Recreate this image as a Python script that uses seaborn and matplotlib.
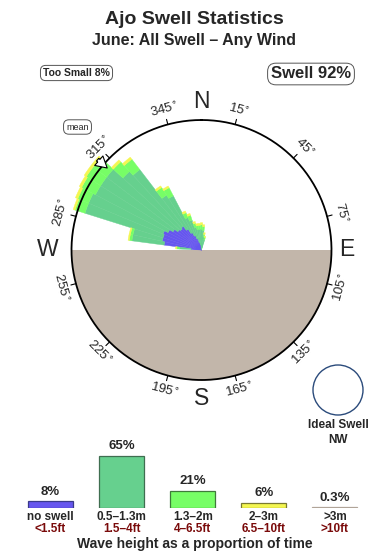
import numpy as np
import matplotlib
matplotlib.use("Agg")
import matplotlib.pyplot as plt
from matplotlib.patches import Ellipse
import seaborn as sns

sns.set_style("white")
plt.rcParams['font.family'] = ['Liberation Sans', 'DejaVu Sans']

# ---------------- data ----------------
# rose: direction bins (deg, compass) and stacked radial lengths (circle radius = 100)
directions = [275, 280, 285, 290, 295, 300, 305, 310, 315, 320, 325, 330, 335, 340, 345, 350, 355, 0, 5, 10, 15]
no_swell   = [8, 29, 31, 31, 32, 29, 26, 23, 22, 23, 19, 15, 12, 9, 6, 4, 2, 2, 1, 0, 0]
h_05_13    = [9, 25, 23, 63, 62, 63, 66, 69, 60, 55, 31, 32, 15, 15, 12, 12, 14, 14, 14, 10, 8]
h_13_2     = [2, 2, 2, 8, 9, 12, 13, 13, 10, 10, 7, 7, 4, 4, 3, 3, 3, 3.5, 3, 2, 2]
h_2_3      = [1, 1, 1, 1.5, 2, 2, 2, 2, 2, 2, 1.5, 1.5, 1.5, 1.5, 1.5, 1.5, 1.5, 1.5, 1.5, 1.5, 1]
mean_dir = 311

deg_ticks = [15, 45, 75, 105, 135, 165, 195, 225, 255, 285, 315, 345]
cardinals = ["N", "E", "S", "W"]
cardinal_deg = [0, 90, 180, 270]

# legend bars
cat_labels = ["no swell", "0.5\u20131.3m", "1.3\u20132m", "2\u20133m", ">3m"]
ft_labels = ["<1.5ft", "1.5\u20134ft", "4\u20136.5ft", "6.5\u201310ft", ">10ft"]
pct = [8, 65, 21, 6, 0.3]
pct_text = ["8%", "65%", "21%", "6%", "0.3%"]

title = "Ajo Swell Statistics"
subtitle = "June: All Swell \u2013 Any Wind"
too_small = "Too Small 8%"
swell_pct = "Swell 92%"
ideal = ["Ideal Swell", "NW"]

colors = ["#6656ee", "#66d08e", "#77fe66", "#f4f650", "#b8ada2"]
edge_colors = ["#3a3a8a", "#3f6e50", "#3f7a3a", "#7a7a30", "#b0a498"]
ground = "#c2b6aa"

# ---------------- figure ----------------
W, H = 390, 560
fig = plt.figure(figsize=(W / 100, H / 100), dpi=100)

cx, cy = 201.5, 250.0      # circle centre in pixels (from top)
R_PX = 130.0               # circle radius px
AX_PX = 165.0              # polar axes radius px
rmax = 100 * AX_PX / R_PX

ax = fig.add_axes([(cx - AX_PX) / W, (H - cy - AX_PX) / H, 2 * AX_PX / W, 2 * AX_PX / H],
                  projection="polar")
ax.set_theta_zero_location("N")
ax.set_theta_direction(-1)
ax.set_ylim(0, rmax)
ax.set_axis_off()

# lower half ground
th = np.radians(np.linspace(90, 270, 200))
ax.fill_between(th, 0, 100, color=ground, lw=0, zorder=1)

# stacked rose
theta = np.radians(directions)
width = np.radians(5.0)
bottom = np.zeros(len(directions))
for vals, col in zip([no_swell, h_05_13, h_13_2, h_2_3], colors[:4]):
    v = np.array(vals, dtype=float)
    ax.bar(theta, v, width=width, bottom=bottom, color=col, edgecolor=col,
           linewidth=0.3, align="center", zorder=3)
    bottom += v

# circle outline
tt = np.radians(np.linspace(0, 360, 400))
ax.plot(tt, np.full_like(tt, 100), color="black", lw=1.3, zorder=5)

# ticks and degree labels
for d in deg_ticks:
    t = np.radians(d)
    ax.plot([t, t], [100, 104], color="black", lw=0.8, zorder=5)
    rot = -d if (d < 90 or d > 270) else 180 - d
    ax.text(t, 111.5, f"{d}$^{{\\circ}}$", rotation=rot,
            ha="center", va="center", fontsize=9.5, clip_on=False)

card_r = {"N": 114.5, "E": 112, "S": 114, "W": 118.5}
for lab, d in zip(cardinals, cardinal_deg):
    ax.text(np.radians(d), card_r[lab], lab, ha="center", va="center", fontsize=16.5, clip_on=False)

# mean arrow
ax.annotate("", xy=(np.radians(mean_dir), 94), xytext=(np.radians(mean_dir), 108),
            arrowprops=dict(arrowstyle="simple,head_length=0.8,head_width=0.9,tail_width=0.25",
                            fc="white", ec="black", lw=0.8), zorder=6)

# ---------------- text ----------------
def fx(x):
    return x / W

def fy(y):
    return 1 - y / H

fig.text(fx(194), fy(19), title, ha="center", va="center", fontsize=14, fontweight="bold")
fig.text(fx(193.5), fy(40), subtitle, ha="center", va="center", fontsize=11.5, fontweight="bold")
fig.text(fx(76.5), fy(73), too_small, ha="center", va="center", fontsize=7.5, fontweight="bold",
         bbox=dict(boxstyle="round,pad=0.25,rounding_size=0.5", fc="white", ec="#555555", lw=0.7))
fig.text(fx(311), fy(74), swell_pct, ha="center", va="center", fontsize=12, fontweight="bold",
         bbox=dict(boxstyle="round,pad=0.2,rounding_size=0.5", fc="white", ec="#555555", lw=0.7))
fig.text(fx(77.5), fy(127), "mean", ha="center", va="center", fontsize=6.5,
         bbox=dict(boxstyle="round,pad=0.3,rounding_size=0.6", fc="white", ec="#555555", lw=0.7))

# ideal swell circle
ell = Ellipse((fx(338), fy(390)), width=50 / W, height=50 / H, transform=fig.transFigure,
              fc="white", ec="#2b4b7b", lw=1.0)
fig.patches.append(ell)
fig.text(fx(338), fy(425), ideal[0], ha="center", va="center", fontsize=8.5, fontweight="bold")
fig.text(fx(338), fy(440), ideal[1], ha="center", va="center", fontsize=8.5, fontweight="bold")

# ---------------- legend bar chart ----------------
spacing = 71.1
left_px = 50.5 - spacing / 2
base_px = 507.5
px_per_unit = 0.8
ytop = 80
bax = fig.add_axes([left_px / W, (H - base_px) / H, 5 * spacing / W, ytop * px_per_unit / H])
sns.barplot(x=cat_labels, y=pct, hue=cat_labels, palette=colors, legend=False,
            width=45 / spacing, ax=bax, linewidth=0.9, saturation=1)
for p, ec in zip(bax.patches, edge_colors):
    p.set_edgecolor(ec)
bax.set_ylim(0, ytop)
bax.set_xlim(-0.5, 4.5)
bax.set_axis_off()
for i, (v, s) in enumerate(zip(pct, pct_text)):
    bax.annotate(s, (i, v), xytext=(0, 2.5), textcoords="offset points",
                 ha="center", va="bottom", fontsize=9.5, fontweight="bold", annotation_clip=False)

for i in range(5):
    xpx = 50.5 + i * spacing
    fig.text(fx(xpx), fy(517.5), cat_labels[i], ha="center", va="center", fontsize=8.5, fontweight="bold")
    fig.text(fx(xpx), fy(529.5), ft_labels[i], ha="center", va="center", fontsize=8.5,
             fontweight="bold", color="#7a0a0a")
fig.text(fx(194.5), fy(544), "Wave height as a proportion of time", ha="center", va="center",
         fontsize=10, fontweight="bold")

fig.savefig("out.png", dpi=100)
